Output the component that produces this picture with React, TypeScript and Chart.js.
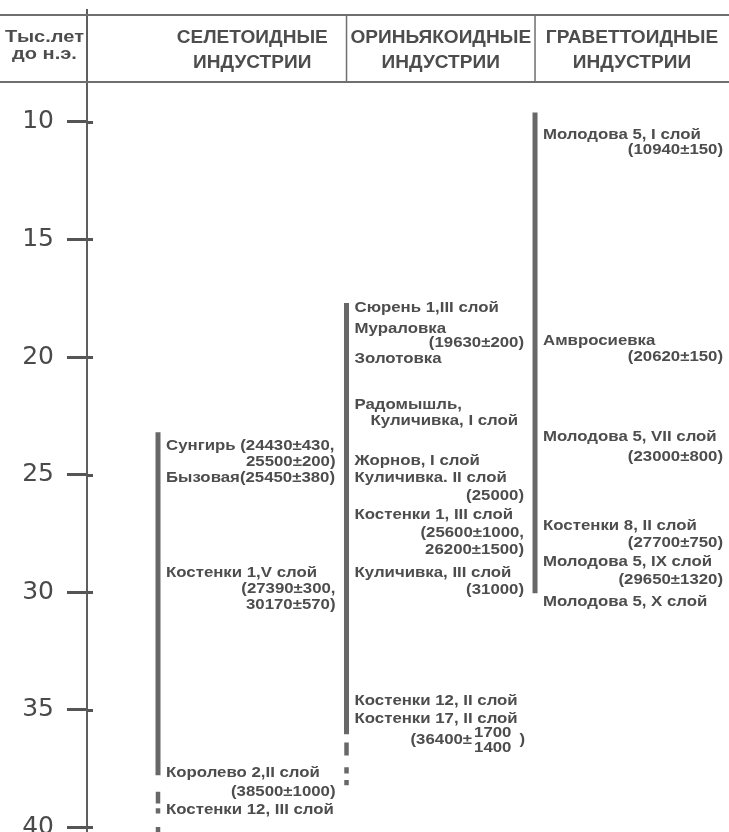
import React, { useEffect, useRef } from "react";
import { Chart, registerables } from "chart.js";

Chart.register(...registerables);

// ---------- data ----------
const Y_TICKS = [10, 15, 20, 25, 30, 35, 40];
const AXIS_TITLE = ["Тыс.лет", "до н.э."];
const COLUMN_TITLES = ["СЕЛЕТОИДНЫЕ", "ОРИНЬЯКОИДНЫЕ", "ГРАВЕТТОИДНЫЕ"];
const COLUMN_SUBTITLE = "ИНДУСТРИИ";

// duration bars, thousand years BP
const SELET_SOLID = [23.2, 37.8];
const SELET_DASHED = [[38.5, 39.0], [39.2, 39.42], [40.0, 40.4]];
const ORIN_SOLID = [17.7, 36.05];
const ORIN_DASHED = [[36.4, 36.95], [37.45, 37.72], [38.0, 38.22]];
const GRAV_SOLID = [9.6, 30.05];

// site labels: text, anchor (thousand years BP), kind (l = left, r = right, i = indented)
const SELET_TEXT = ["Сунгирь (24430±430,", "25500±200)", "Бызовая(25450±380)", "Костенки 1,V слой", "(27390±300,", "30170±570)", "Королево 2,II слой", "(38500±1000)", "Костенки 12, III слой"];
const SELET_AT = [23.79, 24.47, 25.15, 29.19, 29.87, 30.55, 37.7, 38.51, 39.28];
const SELET_KIND = ["l", "r", "l", "l", "r", "r", "l", "r", "l"];

const ORIN_TEXT = ["Сюрень 1,III слой", "Мураловка", "(19630±200)", "Золотовка", "Радомышль,", "Куличивка, I слой", "Жорнов, I слой", "Куличивка. II слой", "(25000)", "Костенки 1, III слой", "(25600±1000,", "26200±1500)", "Куличивка, III слой", "(31000)", "Костенки 12, II слой", "Костенки 17, II слой"];
const ORIN_AT = [17.91, 18.81, 19.4, 20.09, 22.04, 22.72, 24.43, 25.15, 25.91, 26.72, 27.49, 28.21, 29.19, 29.91, 34.64, 35.4];
const ORIN_KIND = ["l", "l", "r", "l", "l", "i", "l", "l", "r", "l", "r", "r", "l", "r", "l", "l"];
const ORIN_FRACTION = ["(36400±", "1700", "1400", ")"];
const ORIN_FRACTION_AT = 36.3;

const GRAV_TEXT = ["Молодова 5, I слой", "(10940±150)", "Амвросиевка", "(20620±150)", "Молодова 5, VII слой", "(23000±800)", "Костенки 8, II слой", "(27700±750)", "Молодова 5, IX слой", "(29650±1320)", "Молодова 5, X слой"];
const GRAV_AT = [10.55, 11.19, 19.32, 20.0, 23.4, 24.26, 27.19, 27.91, 28.72, 29.49, 30.43];
const GRAV_KIND = ["l", "r", "l", "r", "l", "r", "l", "r", "l", "r", "l"];

// ---------- style ----------
const INK = "#4d4d4d";
const BAR = "#686868";
const LABEL_FONT = 'bold 15px "Liberation Sans", Arial, sans-serif';
const LABEL_SX = 1.12;
const HEAD_FONT = 'bold 18px "Liberation Sans", Arial, sans-serif';
const HEAD_SX = 1.06;

function segment(col: number, a: number, b: number, dashed: boolean) {
  return {
    data: [{ x: col, y: a }, { x: col, y: b }],
    showLine: true,
    borderColor: BAR,
    borderWidth: dashed ? 4.5 : 5,
    borderCapStyle: "butt" as const,
    pointRadius: 0,
  };
}

function stretchedText(ctx: CanvasRenderingContext2D, text: string, x: number, y: number, align: CanvasTextAlign, sx: number) {
  ctx.save();
  ctx.translate(x, y);
  ctx.scale(sx, 1);
  ctx.textAlign = align;
  ctx.textBaseline = "middle";
  ctx.fillText(text, 0, 0);
  ctx.restore();
}

const overlay = {
  id: "overlay",
  beforeDraw(chart: any) {
    const ctx = chart.ctx as CanvasRenderingContext2D;
    ctx.save();
    ctx.fillStyle = "#ffffff";
    ctx.fillRect(0, 0, chart.width, chart.height);
    ctx.restore();
  },
  afterDraw(chart: any) {
    const ctx = chart.ctx as CanvasRenderingContext2D;
    const xs = chart.scales.x;
    const ys = chart.scales.y;
    const axisX = chart.chartArea.left;
    const W = chart.width;
    ctx.save();

    // clear axis above header
    ctx.fillStyle = "#fff";
    ctx.fillRect(axisX - 3, 0, 6, 9);

    // inner tick stubs
    ctx.strokeStyle = "#555";
    ctx.lineWidth = 3;
    for (const v of Y_TICKS) {
      const py = Math.round(ys.getPixelForValue(v)) + 0.5;
      ctx.beginPath();
      ctx.moveTo(axisX, py);
      ctx.lineTo(axisX + 6, py);
      ctx.stroke();
    }

    // header rules
    const top = 15, bot = 82;
    ctx.strokeStyle = "#6f6f6f";
    ctx.lineWidth = 2;
    ctx.beginPath();
    ctx.moveTo(0, top); ctx.lineTo(W, top);
    ctx.moveTo(0, bot); ctx.lineTo(W, bot);
    ctx.stroke();
    ctx.lineWidth = 1.5;
    ctx.beginPath();
    for (const c of [1, 2]) {
      const px = xs.getPixelForValue(c);
      ctx.moveTo(px, top); ctx.lineTo(px, bot);
    }
    ctx.stroke();

    // header text
    ctx.fillStyle = INK;
    ctx.font = 'bold 17px "Liberation Sans", Arial, sans-serif';
    stretchedText(ctx, AXIS_TITLE[0], 5, 37, "left", 1.18);
    stretchedText(ctx, AXIS_TITLE[1], 12, 54, "left", 1.18);
    ctx.font = HEAD_FONT;
    const centers = [
      (xs.getPixelForValue(0) + xs.getPixelForValue(1)) / 2,
      (xs.getPixelForValue(1) + xs.getPixelForValue(2)) / 2,
      (xs.getPixelForValue(2) + W) / 2,
    ];
    COLUMN_TITLES.forEach((t, i) => {
      stretchedText(ctx, t, centers[i], 38, "center", HEAD_SX);
      stretchedText(ctx, COLUMN_SUBTITLE, centers[i], 63, "center", HEAD_SX);
    });

    // site labels
    ctx.font = LABEL_FONT;
    const groups = [
      { col: 0, texts: SELET_TEXT, at: SELET_AT, kinds: SELET_KIND },
      { col: 1, texts: ORIN_TEXT, at: ORIN_AT, kinds: ORIN_KIND },
      { col: 2, texts: GRAV_TEXT, at: GRAV_AT, kinds: GRAV_KIND },
    ];
    for (const g of groups) {
      const left = xs.getPixelForValue(g.col) + 8;
      const right = g.col < 2 ? xs.getPixelForValue(g.col + 1) - 11 : W - 6;
      g.texts.forEach((t, i) => {
        const py = ys.getPixelForValue(g.at[i]);
        const k = g.kinds[i];
        if (k === "r") stretchedText(ctx, t, right, py, "right", LABEL_SX);
        else if (k === "i") stretchedText(ctx, t, left + 16, py, "left", LABEL_SX);
        else stretchedText(ctx, t, left, py, "left", LABEL_SX);
      });
    }

    // fraction label "(36400 ± 1700/1400)"
    {
      const right = xs.getPixelForValue(2) - 10;
      const py = ys.getPixelForValue(ORIN_FRACTION_AT);
      const wClose = ctx.measureText(ORIN_FRACTION[3]).width * LABEL_SX;
      const wNum = Math.max(ctx.measureText(ORIN_FRACTION[1]).width, ctx.measureText(ORIN_FRACTION[2]).width) * LABEL_SX;
      stretchedText(ctx, ORIN_FRACTION[3], right, py, "right", LABEL_SX);
      const numRight = right - wClose - 8;
      stretchedText(ctx, ORIN_FRACTION[1], numRight, py - 7, "right", LABEL_SX);
      stretchedText(ctx, ORIN_FRACTION[2], numRight, py + 8, "right", LABEL_SX);
      stretchedText(ctx, ORIN_FRACTION[0], numRight - wNum - 2, py, "right", LABEL_SX);
    }
    ctx.restore();
  },
};

export default function App() {
  const ref = useRef<HTMLCanvasElement | null>(null);
  useEffect(() => {
    if (!ref.current) return;
    const datasets: any[] = [
      segment(0, SELET_SOLID[0], SELET_SOLID[1], false),
      ...SELET_DASHED.map(([a, b]) => segment(0, a, b, true)),
      segment(1, ORIN_SOLID[0], ORIN_SOLID[1], false),
      ...ORIN_DASHED.map(([a, b]) => segment(1, a, b, true)),
      segment(2, GRAV_SOLID[0], GRAV_SOLID[1], false),
    ];
    const chart = new Chart(ref.current, {
      type: "scatter",
      data: { datasets },
      options: {
        animation: false,
        responsive: false,
        maintainAspectRatio: false,
        devicePixelRatio: 1,
        events: [],
        layout: { padding: 0 },
        plugins: { legend: { display: false }, tooltip: { enabled: false } },
        scales: {
          x: { type: "linear", display: false, min: -0.3767, max: 3.029 },
          y: {
            type: "linear",
            reverse: true,
            min: 4.81,
            max: 40.21,
            afterBuildTicks: (s: any) => {
              s.ticks = Y_TICKS.map((v) => ({ value: v }));
            },
            afterFit: (s: any) => {
              s.width = 87;
              s.paddingTop = 0;
              s.paddingBottom = 0;
            },
            ticks: {
              font: { family: "DejaVu Sans", size: 25 },
              color: "#4a4a4a",
              padding: 13,
            },
            grid: {
              drawOnChartArea: false,
              drawTicks: true,
              tickLength: 20,
              tickWidth: 3,
              tickColor: "#555",
            },
            border: { display: true, color: "#5e5e5e", width: 2 },
          },
        },
      },
      plugins: [overlay],
    });
    return () => chart.destroy();
  }, []);
  return (
    <div style={{ position: "absolute", left: 0, top: 0, width: 729, height: 832 }}>
      <canvas ref={ref} width={729} height={832} />
    </div>
  );
}
